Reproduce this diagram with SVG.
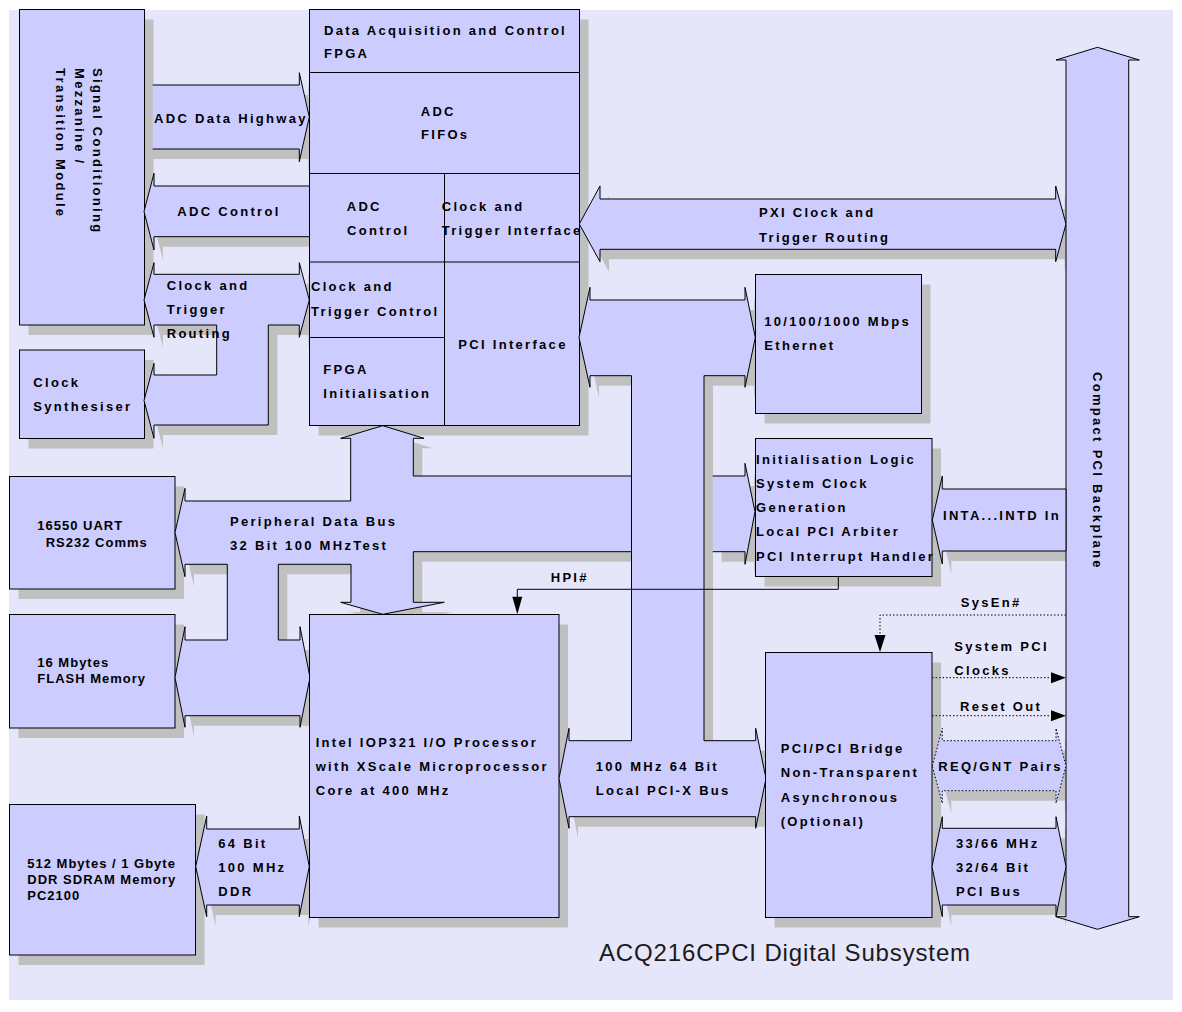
<svg xmlns="http://www.w3.org/2000/svg" xmlns:xlink="http://www.w3.org/1999/xlink" width="1182" height="1012" viewBox="0 0 1182 1012">
<style>
.bg{fill:#E6E6FA}
.box{fill:#CCCCFF;stroke:#000;stroke-width:1}
.arr{fill:#CCCCFF;stroke:#000;stroke-width:1}
.arrd{fill:#CCCCFF;stroke:#000;stroke-width:1;stroke-dasharray:1.5 2}
.sh{fill:#C0C0C0;stroke:none}
.ln{fill:none;stroke:#000;stroke-width:1}
.dl{fill:none;stroke:#000;stroke-width:1;stroke-dasharray:1.5 2}
.hd{fill:#000;stroke:none}
.t{font-family:"Liberation Sans",Arial,sans-serif;font-size:13px;font-weight:bold;letter-spacing:2.3px;fill:#000}
.t2{font-family:"Liberation Sans",Arial,sans-serif;font-size:13px;font-weight:bold;letter-spacing:1px;fill:#000}
.title{font-family:"Liberation Sans",Arial,sans-serif;font-size:24px;letter-spacing:0.85px;fill:#1a1a1a}
</style>
<defs>
<rect id="r-signal" x="19.5" y="9.5" width="125" height="315.5"/>
<rect id="r-fpga" x="309.5" y="9.5" width="270" height="416"/>
<rect id="r-clk" x="19.5" y="350" width="125" height="88.5"/>
<rect id="r-eth" x="755.5" y="274.5" width="166" height="139"/>
<rect id="r-init" x="755.5" y="438.5" width="176.5" height="138"/>
<rect id="r-uart" x="9.5" y="476.5" width="165.5" height="112.5"/>
<rect id="r-flash" x="9.5" y="614.5" width="165.5" height="113.5"/>
<rect id="r-iop" x="309.5" y="614.5" width="249.5" height="303"/>
<rect id="r-bridge" x="765.5" y="652.5" width="166.5" height="265"/>
<rect id="r-ddr" x="9.5" y="804.5" width="186" height="150.5"/>
<polygon id="a-adh-s" points="144,85 299.3,85 299.3,72.7 309.3,117 299.3,161.7 299.3,149 144,149"/>
<polygon id="a-adc" points="144,211.5 154,173.3 154,186 309.5,186 309.5,236.7 154,236.7 154,250"/>
<polygon id="a-ctr" points="144,300 154,262.7 154,274.3 299.3,274.3 299.3,262.7 309.3,300 299.3,337.3 299.3,325 268.3,325 268.3,425 154,425 154,438.3 144,400.5 154,363.3 154,375 216.7,375 216.7,325 154,325 154,337.3"/>
<polygon id="a-pxi" points="579.3,224 600,186 600,199 1055.7,199 1055.7,186 1066,224 1055.7,261.7 1055.7,249.3 600,249.3 600,261.7"/>
<polygon id="a-per" points="382.7,425.7 424,438.3 413.3,438.3 413.3,476 640,476 640,551.7 413.3,551.7 413.3,602.3 444.3,602.3 382.7,614.3 340.7,602.3 351,602.3 351,564.3 278.3,564.3 278.3,640 300,640 300,626.7 310,677.5 300,727.3 300,715.7 185,715.7 185,727.3 175,677.5 185,626.7 185,640 227.3,640 227.3,564.3 185,564.3 185,576.7 175,532.5 185,488.3 185,501 350.7,501 350.7,438.3 340.7,438.3"/>
<path id="a-band" d="M712.7,476 H745 V463.3 L755,511.7 L745,564.3 V551.7 H712.7"/>
<polygon id="a-pcix" points="579,337.5 590,287.3 590,300 745,300 745,287.3 755.3,337.5 745,387.3 745,375.7 704,375.7 704,740.7 755.7,740.7 755.7,728.3 766,778.5 755.7,828.3 755.7,816.7 569,816.7 569,828.3 559,778.5 569,728.3 569,740.7 631.5,740.7 631.5,375.7 590,375.7 590,387.3"/>
<polygon id="a-ddr" points="195.7,866.5 206.7,816 206.7,829 299.3,829 299.3,816 309.3,866.5 299.3,916.7 299.3,905 206.7,905 206.7,916.7"/>
<polygon id="a-inta" points="932.3,520 942.3,476 942.3,489 1066,489 1066,551 942.3,551 942.3,564"/>
<polygon id="a-req" points="932.3,766 942.3,728.3 942.3,740.7 1056,740.7 1056,728.3 1066,766 1056,803.3 1056,790.7 942.3,790.7 942.3,803.3"/>
<polygon id="a-pci" points="932,866.7 942.3,816.7 942.3,828.3 1056,828.3 1056,816.7 1066,866.7 1056,916.7 1056,905 942.3,905 942.3,916.7"/>
</defs>

<rect class="bg" x="9" y="10" width="1164" height="990"/>

<g id="shadows" class="sh" transform="translate(9,10)">
<use xlink:href="#r-signal"/>
<use xlink:href="#r-fpga"/>
<use xlink:href="#r-clk"/>
<use xlink:href="#r-eth"/>
<use xlink:href="#r-init"/>
<use xlink:href="#r-uart"/>
<use xlink:href="#r-flash"/>
<use xlink:href="#r-iop"/>
<use xlink:href="#r-bridge"/>
<use xlink:href="#r-ddr"/>
<use xlink:href="#a-adh-s"/>
<use xlink:href="#a-adc"/>
<use xlink:href="#a-ctr"/>
<use xlink:href="#a-pxi"/>
<use xlink:href="#a-per"/>
<use xlink:href="#a-band"/>
<use xlink:href="#a-pcix"/>
<use xlink:href="#a-ddr"/>
<use xlink:href="#a-inta"/>
<use xlink:href="#a-req"/>
<use xlink:href="#a-pci"/>
</g>

<g id="node-signal-conditioning">
<use xlink:href="#r-signal" class="box"/>
<text class="t" transform="translate(93,68) rotate(90)"><tspan x="0" y="0">Signal Conditioning</tspan><tspan x="0" y="18.5">Mezzanine /</tspan><tspan x="0" y="37">Transition Module</tspan></text>
</g>
<g id="node-clock-synth">
<use xlink:href="#r-clk" class="box"/>
<text class="t" x="33.3" y="386.7">Clock</text>
<text class="t" x="33.3" y="411">Synthesiser</text>
</g>
<g id="node-uart">
<use xlink:href="#r-uart" class="box"/>
<text class="t2" x="37.3" y="530">16550 UART</text>
<text class="t2" x="45.7" y="546.5">RS232 Comms</text>
</g>
<g id="node-flash">
<use xlink:href="#r-flash" class="box"/>
<text class="t2" x="37.3" y="667">16 Mbytes</text>
<text class="t2" x="37.3" y="683">FLASH Memory</text>
</g>
<g id="node-ddr">
<use xlink:href="#r-ddr" class="box"/>
<text class="t2" x="27.3" y="867.5">512 Mbytes / 1 Gbyte</text>
<text class="t2" x="27.3" y="883.5">DDR SDRAM Memory</text>
<text class="t2" x="27.3" y="899.5">PC2100</text>
</g>

<g id="connectors">
<g id="bus-adc-data-highway">
<path class="arr" d="M152.7,85 H299.3 V72.7 L309.3,117 L299.3,161.7 V149 H152.7"/>
<text class="t" x="154" y="122.5">ADC Data Highway</text>
</g>
<g id="bus-adc-control">
<use xlink:href="#a-adc" class="arr"/>
<text class="t" x="177.3" y="216">ADC Control</text>
</g>
<g id="bus-clock-trigger-routing">
<use xlink:href="#a-ctr" class="arr"/>
<text class="t" x="166.7" y="290">Clock and</text>
<text class="t" x="166.7" y="314">Trigger</text>
<text class="t" x="166.7" y="338.3">Routing</text>
</g>
<g id="bus-peripheral">
<use xlink:href="#a-per" class="arr"/>
<use xlink:href="#a-band" class="arr"/>
<text class="t" x="230" y="526">Peripheral Data Bus</text>
<text class="t" x="230" y="550">32 Bit 100 MHzTest</text>
</g>
<g id="bus-ddr">
<use xlink:href="#a-ddr" class="arr"/>
<text class="t" x="218.3" y="847.5">64 Bit</text>
<text class="t" x="218.3" y="871.5">100 MHz</text>
<text class="t" x="218.3" y="895.5">DDR</text>
</g>
</g>

<g id="node-fpga">
<use xlink:href="#r-fpga" class="box"/>
<path class="ln" d="M309.5,72.5 H579.5 M309.5,173.5 H579.5 M309.5,262 H579.5 M309.5,337.5 H444.5 M444.5,173.5 V425.5"/>
<text class="t" x="324" y="34.7">Data Acquisition and Control</text>
<text class="t" x="324" y="58.3">FPGA</text>
<text class="t" x="420.7" y="116">ADC</text>
<text class="t" x="421" y="139.3">FIFOs</text>
<text class="t" x="346.7" y="210.7">ADC</text>
<text class="t" x="347" y="235">Control</text>
<text class="t" x="441.7" y="210.7">Clock and</text>
<text class="t" x="441.7" y="235">Trigger Interface</text>
<text class="t" x="311" y="291.3">Clock and</text>
<text class="t" x="311" y="315.7">Trigger Control</text>
<text class="t" x="323.3" y="374.3">FPGA</text>
<text class="t" x="323.3" y="398.3">Initialisation</text>
<text class="t" x="458.3" y="349.3">PCI Interface</text>
</g>
<g id="node-iop321">
<use xlink:href="#r-iop" class="box"/>
<text class="t" x="315.7" y="746.7">Intel IOP321 I/O Processor</text>
<text class="t" x="315.7" y="770.7">with XScale Microprocessor</text>
<text class="t" x="315.7" y="794.7">Core at 400 MHz</text>
</g>

<g id="connectors-2">
<g id="bus-pxi">
<use xlink:href="#a-pxi" class="arr"/>
<text class="t" x="759" y="217.3">PXI Clock and</text>
<text class="t" x="759" y="241.7">Trigger Routing</text>
</g>
<g id="bus-pcix">
<use xlink:href="#a-pcix" class="arr"/>
<text class="t" x="595.7" y="770.7">100 MHz 64 Bit</text>
<text class="t" x="595.7" y="795">Local PCI-X Bus</text>
</g>
<g id="bus-backplane">
<polygon class="arr" points="1097.5,47.3 1139.3,60 1128.7,60 1128.7,916.7 1139.3,916.7 1097.5,929.3 1056,916.7 1066,916.7 1066,60 1056,60"/>
<text class="t" transform="translate(1093.3,372) rotate(90)">Compact PCI Backplane</text>
</g>
</g>

<g id="node-ethernet">
<use xlink:href="#r-eth" class="box"/>
<text class="t" x="764.3" y="326">10/100/1000 Mbps</text>
<text class="t" x="764.3" y="350">Ethernet</text>
</g>
<g id="node-init-logic">
<use xlink:href="#r-init" class="box"/>
<text class="t" x="756" y="464">Initialisation Logic</text>
<text class="t" x="756" y="488">System Clock</text>
<text class="t" x="756" y="512">Generation</text>
<text class="t" x="756" y="536">Local PCI Arbiter</text>
<text class="t" x="756" y="560.5">PCI Interrupt Handler</text>
</g>
<g id="node-bridge">
<use xlink:href="#r-bridge" class="box"/>
<text class="t" x="780.7" y="753.3">PCI/PCI Bridge</text>
<text class="t" x="780.7" y="777.3">Non-Transparent</text>
<text class="t" x="780.7" y="801.7">Asynchronous</text>
<text class="t" x="780.7" y="826">(Optional)</text>
</g>

<g id="connectors-3">
<g id="bus-inta">
<use xlink:href="#a-inta" class="arr"/>
<text class="t" x="943" y="520">INTA...INTD In</text>
</g>
<g id="bus-req-gnt">
<use xlink:href="#a-req" class="arrd"/>
<text class="t" x="938.3" y="770.7">REQ/GNT Pairs</text>
</g>
<g id="bus-pci">
<use xlink:href="#a-pci" class="arr"/>
<text class="t" x="956" y="847.7">33/66 MHz</text>
<text class="t" x="956" y="871.7">32/64 Bit</text>
<text class="t" x="956" y="896">PCI Bus</text>
</g>
<g id="sig-hpi">
<polyline class="ln" points="838.3,576.7 838.3,589.3 517.3,589.3 517.3,598"/>
<polygon class="hd" points="512.3,596.7 522.3,596.7 517.3,614.3"/>
<text class="t" x="550.7" y="581.7">HPI#</text>
</g>
<g id="sig-sysen">
<polyline class="dl" points="1066,615 880,615 880,636"/>
<polygon class="hd" points="874.5,635 885.5,635 880,652.3"/>
<text class="t" x="960.7" y="606.7">SysEn#</text>
</g>
<g id="sig-clocks">
<line class="dl" x1="932" y1="677.7" x2="1052" y2="677.7"/>
<polygon class="hd" points="1051,672.2 1051,683.2 1066,677.7"/>
<text class="t" x="954.3" y="650.7">System PCI</text>
<text class="t" x="954.3" y="675">Clocks</text>
</g>
<g id="sig-reset">
<line class="dl" x1="932" y1="715.7" x2="1052" y2="715.7"/>
<polygon class="hd" points="1051,710.2 1051,721.2 1066,715.7"/>
<text class="t" x="960" y="711">Reset Out</text>
</g>
</g>

<text class="title" x="599" y="960.7">ACQ216CPCI Digital Subsystem</text>
</svg>
